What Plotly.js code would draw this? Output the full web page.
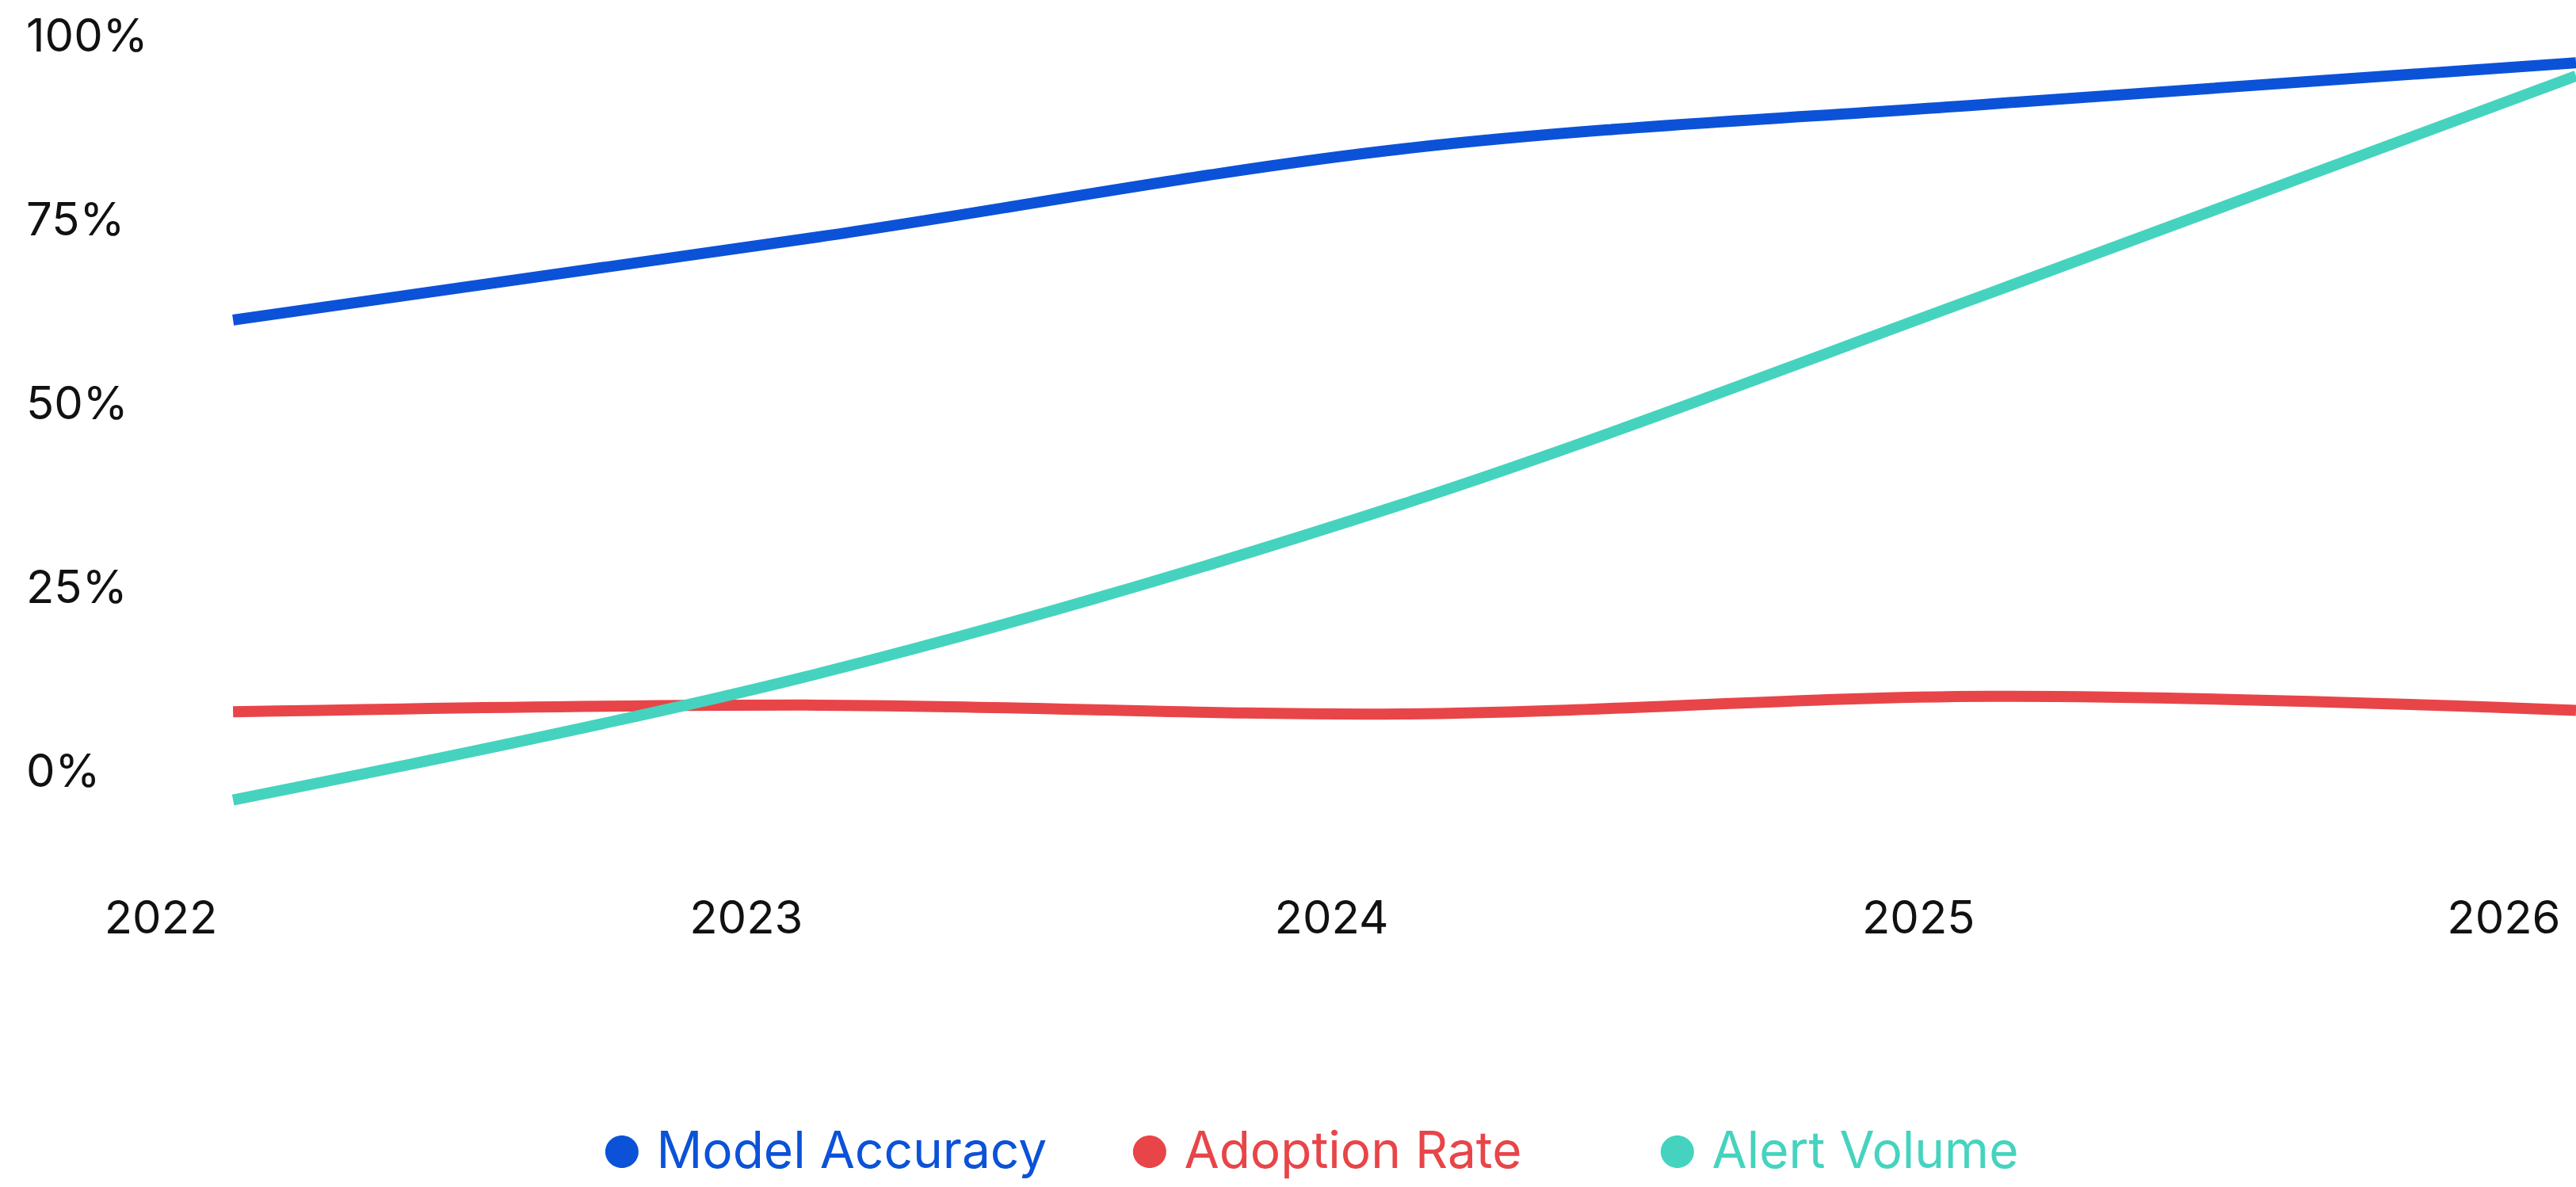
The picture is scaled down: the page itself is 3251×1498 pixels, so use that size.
<!DOCTYPE html>
<html>
<head>
<meta charset="utf-8">
<script src="https://cdn.plot.ly/plotly-3.0.1.min.js"></script>
<style>
html,body{margin:0;padding:0;background:#fff;overflow:hidden;}
#chart{width:3251px;height:1498px;}
</style>
</head>
<body>
<div id="chart"></div>
<script>
// Data
const dates = ['2022-02-15', '2023-02-15', '2024-02-15', '2025-02-15', '2026-02-15'];
const modelAccuracy = [61.3, 72.6, 84.6, 90.7, 96.3];
const adoptionRate = [8.0, 8.9, 7.7, 10.1, 8.2];
const alertVolume = [-4.0, 13.2, 36.3, 65.0, 94.5];

const seriesNames = ['Model Accuracy', 'Adoption Rate', 'Alert Volume'];
const seriesColors = ['#0B52D8', '#E84549', '#45D3BF'];
const seriesValues = [modelAccuracy, adoptionRate, alertVolume];

const yTickVals = [0, 25, 50, 75, 100];
const yTickText = ['0%', '25%', '50%', '75%', '100%'];
const xTickVals = ['2022-01-01', '2023-01-01', '2024-01-01', '2025-01-01', '2026-01-01'];
const xTickText = ['2022', '2023', '2024', '2025', '2026'];

const FONT = 'Inter, "Noto Sans", sans-serif';

const traces = [];
seriesValues.forEach((vals, i) => {
  traces.push({
    type: 'scatter',
    mode: 'lines',
    x: dates,
    y: vals,
    name: seriesNames[i],
    line: {color: seriesColors[i], width: 14, shape: 'spline', smoothing: 1},
    showlegend: false,
    hoverinfo: 'skip'
  });
});
// legend entries (no drawn marks)
seriesValues.forEach((vals, i) => {
  traces.push({
    type: 'scatter',
    mode: 'markers',
    x: [null],
    y: [null],
    name: '<span style="color:' + seriesColors[i] + ';font-size:56px">\u25CF</span><span style="color:' + seriesColors[i] + '"> ' + seriesNames[i] + '</span>',
    marker: {color: 'rgba(0,0,0,0)', size: 1},
    showlegend: true,
    hoverinfo: 'skip'
  });
});

const layout = {
  width: 3251,
  height: 1498,
  paper_bgcolor: '#ffffff',
  plot_bgcolor: '#ffffff',
  margin: {l: 30, r: 0, t: 0, b: 398, pad: 0},
  font: {family: FONT, size: 58, color: '#111111'},
  xaxis: {
    type: 'date',
    range: ['2021-10-07 12:00', '2026-02-15'],
    tickmode: 'array',
    tickvals: xTickVals,
    ticktext: xTickText,
    showgrid: false,
    zeroline: false,
    showline: false,
    ticks: '',
    ticklabelstandoff: 45,
    tickfont: {family: FONT, size: 58, color: '#111111'}
  },
  yaxis: {
    range: [-10.95, 104.84],
    tickmode: 'array',
    tickvals: yTickVals,
    ticktext: yTickText,
    showgrid: false,
    zeroline: false,
    showline: false,
    ticks: '',
    ticklabelposition: 'inside',
    tickfont: {family: FONT, size: 58, color: '#111111'}
  },
  showlegend: true,
  legend: {
    orientation: 'h',
    x: 0.214,
    xanchor: 'left',
    y: -0.35,
    yanchor: 'middle',
    entrywidth: 621,
    entrywidthmode: 'pixels',
    font: {family: FONT, size: 64},
    bgcolor: 'rgba(0,0,0,0)'
  },
  hovermode: false
};

Plotly.newPlot('chart', traces, layout, {displayModeBar: false, staticPlot: true});
</script>
</body>
</html>
